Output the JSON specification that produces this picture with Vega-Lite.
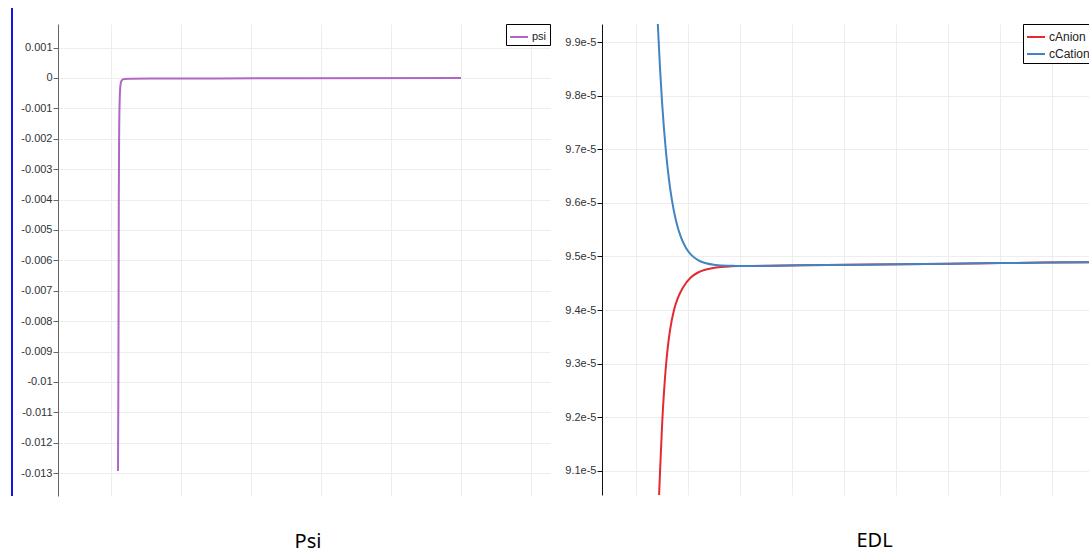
{
  "$schema": "https://vega.github.io/schema/vega-lite/v6.json",
  "padding": {"left": 10, "top": 7, "right": 0, "bottom": 12},
  "background": "white",
  "config": {
    "view": {"stroke": null},
    "font": "Liberation Sans",
    "locale": {"number": {"decimal": ".", "thousands": ",", "grouping": [3], "currency": ["$", ""], "minus": "-"}},
    "axis": {"labelFont": "Liberation Sans", "labelFontSize": 11, "labelColor": "#333333", "gridColor": "#ededed", "gridWidth": 1, "tickSize": 5, "labelPadding": 1, "title": null, "labelOverlap": false},
    "legend": {"orient": "top-right", "offset": 0, "title": null, "strokeColor": "#000000", "fillColor": "#ffffff", "padding": 3, "symbolType": "stroke", "symbolSize": 324, "symbolStrokeWidth": 2, "labelFont": "Liberation Sans", "labelColor": "#222222", "labelOffset": 3, "rowPadding": 1, "cornerRadius": 0}
  },
  "datasets": {
    "psi": [
      {"s": 1.1, "psi": -0.01293, "series": "psi"},
      {"s": 1.1043, "psi": -0.01059, "series": "psi"},
      {"s": 1.1086, "psi": -0.0073, "series": "psi"},
      {"s": 1.1114, "psi": -0.00401, "series": "psi"},
      {"s": 1.1171, "psi": -0.00171, "series": "psi"},
      {"s": 1.1243, "psi": -0.00072, "series": "psi"},
      {"s": 1.1314, "psi": -0.00033, "series": "psi"},
      {"s": 1.1429, "psi": -0.00013, "series": "psi"},
      {"s": 1.1571, "psi": -0.00007, "series": "psi"},
      {"s": 1.1857, "psi": -0.00003, "series": "psi"},
      {"s": 1.5714, "psi": -0.00002, "series": "psi"},
      {"s": 3.714, "psi": -0.00001, "series": "psi"},
      {"s": 6.0, "psi": 0.0, "series": "psi"}
    ],
    "edl": [
      {"s": 1.4385, "c": 9.036e-5, "series": "cAnion"},
      {"s": 1.4481, "c": 9.051e-5, "series": "cAnion"},
      {"s": 1.4673, "c": 9.097e-5, "series": "cAnion"},
      {"s": 1.4865, "c": 9.139e-5, "series": "cAnion"},
      {"s": 1.5058, "c": 9.182e-5, "series": "cAnion"},
      {"s": 1.5442, "c": 9.247e-5, "series": "cAnion"},
      {"s": 1.5827, "c": 9.297e-5, "series": "cAnion"},
      {"s": 1.6212, "c": 9.334e-5, "series": "cAnion"},
      {"s": 1.6596, "c": 9.362e-5, "series": "cAnion"},
      {"s": 1.7365, "c": 9.400e-5, "series": "cAnion"},
      {"s": 1.8135, "c": 9.423e-5, "series": "cAnion"},
      {"s": 1.9096, "c": 9.442e-5, "series": "cAnion"},
      {"s": 2.0635, "c": 9.461e-5, "series": "cAnion"},
      {"s": 2.1981, "c": 9.470e-5, "series": "cAnion"},
      {"s": 2.3519, "c": 9.4755e-5, "series": "cAnion"},
      {"s": 2.5442, "c": 9.4795e-5, "series": "cAnion"},
      {"s": 2.8327, "c": 9.4815e-5, "series": "cAnion"},
      {"s": 3.025, "c": 9.482e-5, "series": "cAnion"},
      {"s": 4.1788, "c": 9.4833e-5, "series": "cAnion"},
      {"s": 6.1019, "c": 9.4854e-5, "series": "cAnion"},
      {"s": 8.025, "c": 9.4875e-5, "series": "cAnion"},
      {"s": 9.794, "c": 9.4894e-5, "series": "cAnion"},
      {"s": 1.4192, "c": 9.947e-5, "series": "cCation"},
      {"s": 1.4288, "c": 9.926e-5, "series": "cCation"},
      {"s": 1.4673, "c": 9.8514e-5, "series": "cCation"},
      {"s": 1.5058, "c": 9.789e-5, "series": "cCation"},
      {"s": 1.5442, "c": 9.7375e-5, "series": "cCation"},
      {"s": 1.5827, "c": 9.6945e-5, "series": "cCation"},
      {"s": 1.6404, "c": 9.643e-5, "series": "cCation"},
      {"s": 1.6981, "c": 9.604e-5, "series": "cCation"},
      {"s": 1.775, "c": 9.5666e-5, "series": "cCation"},
      {"s": 1.8712, "c": 9.5354e-5, "series": "cCation"},
      {"s": 1.9673, "c": 9.5157e-5, "series": "cCation"},
      {"s": 2.0635, "c": 9.5033e-5, "series": "cCation"},
      {"s": 2.1981, "c": 9.4932e-5, "series": "cCation"},
      {"s": 2.3519, "c": 9.4873e-5, "series": "cCation"},
      {"s": 2.5442, "c": 9.4841e-5, "series": "cCation"},
      {"s": 2.8327, "c": 9.4825e-5, "series": "cCation"},
      {"s": 3.025, "c": 9.482e-5, "series": "cCation"},
      {"s": 4.1788, "c": 9.4833e-5, "series": "cCation"},
      {"s": 6.1019, "c": 9.4854e-5, "series": "cCation"},
      {"s": 8.025, "c": 9.4875e-5, "series": "cCation"},
      {"s": 9.794, "c": 9.4894e-5, "series": "cCation"}
    ]
  },
  "bounds": "flush",
  "spacing": 52,
  "resolve": {"scale": {"color": "independent", "x": "independent", "y": "independent"}, "legend": {"color": "independent"}},
  "hconcat": [
    {
      "width": 492,
      "height": 472,
      "title": {"text": "Psi", "orient": "bottom", "anchor": "middle", "frame": "group", "offset": 35, "dx": 4, "font": "Noto Sans", "fontSize": 20, "fontWeight": "normal", "color": "#000000"},
      "layer": [
        {
          "data": {"name": "psi"},
          "mark": {"type": "line", "strokeWidth": 2, "interpolate": "monotone", "clip": true},
          "encoding": {
            "x": {"field": "s", "type": "quantitative", "scale": {"domain": [0.2429, 7.2714], "nice": false, "zero": false}, "axis": {"values": [1, 2, 3, 4, 5, 6, 7], "tickCount": 20, "labels": false, "ticks": false, "domain": false, "grid": true}},
            "y": {"field": "psi", "type": "quantitative", "scale": {"domain": [-0.01375, 0.001776], "nice": false, "zero": false}, "axis": {"values": [0.001, 0, -0.001, -0.002, -0.003, -0.004, -0.005, -0.006, -0.007, -0.008, -0.009, -0.01, -0.011, -0.012, -0.013], "tickCount": 30, "format": "~g", "grid": true, "domainColor": "#666666", "tickColor": "#666666"}},
            "color": {"field": "series", "type": "nominal", "scale": {"domain": ["psi"], "range": ["#b066c2"]}, "legend": {"labelFontSize": 11}}
          }
        },
        {
          "data": {"values": [{"k": 1}]},
          "mark": {"type": "rule", "color": "#1414e6", "strokeWidth": 2},
          "encoding": {
            "x": {"datum": -0.4143},
            "y": {"datum": 0.002302},
            "y2": {"datum": -0.01375}
          }
        }
      ]
    },
    {
      "width": 491,
      "height": 471,
      "title": {"text": "EDL", "orient": "bottom", "anchor": "middle", "frame": "group", "offset": 36, "dx": 27, "font": "Noto Sans", "fontSize": 20, "fontWeight": "normal", "color": "#000000"},
      "data": {"name": "edl"},
      "mark": {"type": "line", "strokeWidth": 2, "interpolate": "monotone", "clip": true},
      "encoding": {
        "x": {"field": "s", "type": "quantitative", "scale": {"domain": [0.3519, 9.794], "nice": false, "zero": false}, "axis": {"values": [1, 2, 3, 4, 5, 6, 7, 8, 9], "tickCount": 20, "labels": false, "ticks": false, "domain": false, "grid": true}},
        "y": {"field": "c", "type": "quantitative", "scale": {"domain": [9.0549e-5, 9.9336e-5], "nice": false, "zero": false}, "axis": {"values": [9.1e-5, 9.2e-5, 9.3e-5, 9.4e-5, 9.5e-5, 9.6e-5, 9.7e-5, 9.8e-5, 9.9e-5], "tickCount": 20, "format": ".1e", "grid": true, "domainColor": "#111111", "tickColor": "#111111"}},
        "color": {"field": "series", "type": "nominal", "scale": {"domain": ["cAnion", "cCation"], "range": ["#e32a2f", "#4084c4"]}, "legend": {"labelFontSize": 12}}
      }
    }
  ]
}
